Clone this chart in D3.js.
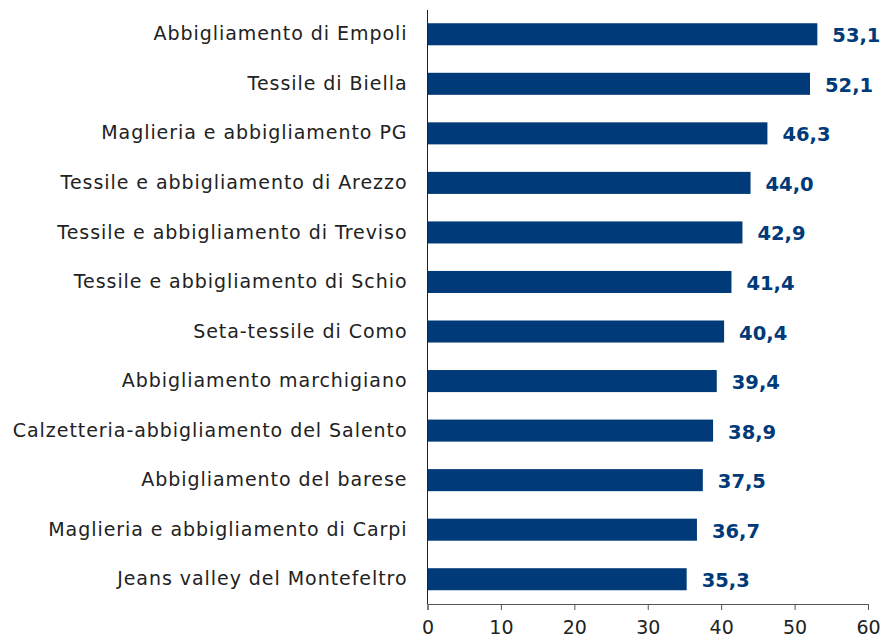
<!DOCTYPE html>
<html><head><meta charset="utf-8">
<script src="https://cdn.jsdelivr.net/npm/d3@7"></script>
<style>body{margin:0;background:#fff}svg{display:block}</style>
</head><body>
<svg id="chart" width="883" height="640"></svg>
<script>
const categories = [
  "Abbigliamento di Empoli",
  "Tessile di Biella",
  "Maglieria e abbigliamento PG",
  "Tessile e abbigliamento di Arezzo",
  "Tessile e abbigliamento di Treviso",
  "Tessile e abbigliamento di Schio",
  "Seta-tessile di Como",
  "Abbigliamento marchigiano",
  "Calzetteria-abbigliamento del Salento",
  "Abbigliamento del barese",
  "Maglieria e abbigliamento di Carpi",
  "Jeans valley del Montefeltro"
];
const values = [53.1, 52.1, 46.3, 44.0, 42.9, 41.4, 40.4, 39.4, 38.9, 37.5, 36.7, 35.3];
const xTicks = [0, 10, 20, 30, 40, 50, 60];

const svg = d3.select("#chart");
const font = "'DejaVu Sans', sans-serif";
const x = d3.scaleLinear().domain([0, 60]).range([427.5, 868]);
const y = d3.scaleBand().domain(categories).range([9.5, 604]).paddingInner(0.555).paddingOuter(0.2775);

svg.selectAll("rect.bar").data(values).join("rect")
  .attr("class", "bar")
  .attr("x", x(0))
  .attr("y", (d, i) => y(categories[i]))
  .attr("width", d => x(d) - x(0))
  .attr("height", y.bandwidth())
  .attr("fill", "#003a78");

svg.selectAll("text.val").data(values).join("text")
  .attr("class", "val")
  .attr("x", d => x(d) + 15)
  .attr("y", (d, i) => y(categories[i]) + y.bandwidth() / 2 + 1)
  .attr("dy", "0.36em")
  .attr("font-family", font)
  .attr("font-weight", "bold")
  .attr("font-size", 19.5)
  .attr("fill", "#003a78")
  .text(d => d.toFixed(1).replace(".", ","));

const xAxis = svg.append("g").attr("transform", "translate(0,604)")
  .call(d3.axisBottom(x).tickValues(xTicks).tickSize(6).tickPadding(11).tickFormat(d => d));
xAxis.select(".domain").attr("stroke", "#555");
xAxis.selectAll(".tick line").attr("stroke", "#555");
xAxis.selectAll("text").attr("font-family", font).attr("font-size", 19).attr("fill", "#222");

const yAxis = svg.append("g").attr("transform", "translate(427.5,0)")
  .call(d3.axisLeft(y).tickSize(0).tickPadding(20));
yAxis.select(".domain").attr("stroke", "#222").attr("d", "M0,10V604");
yAxis.selectAll("text").attr("font-family", font).attr("font-size", 19)
  .attr("letter-spacing", "0.95px").attr("fill", "#222");
</script>
</body></html>
